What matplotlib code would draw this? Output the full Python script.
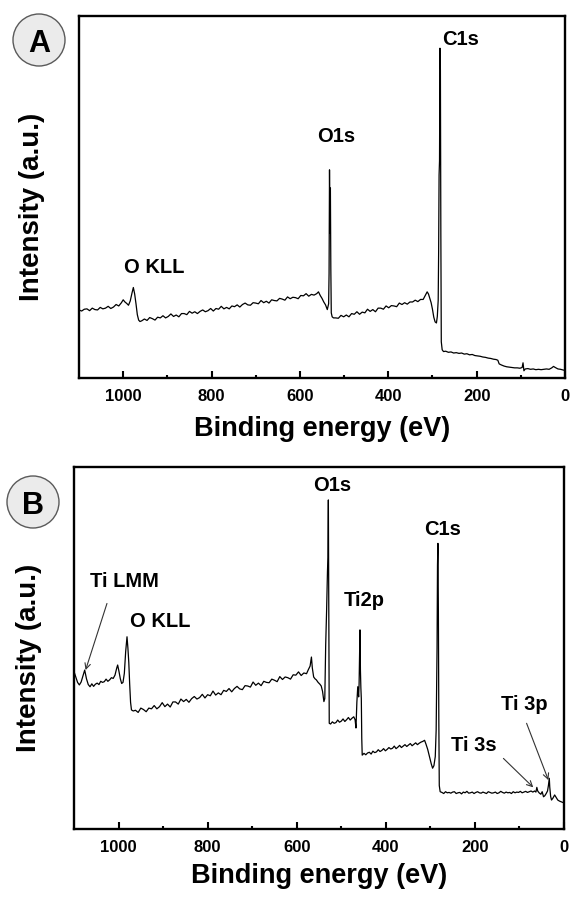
import matplotlib
matplotlib.use('Agg')
import matplotlib.pyplot as plt
from matplotlib.patches import Ellipse

plt.rcParams['font.family'] = ['Liberation Sans', 'DejaVu Sans']
plt.rcParams['font.weight'] = 'bold'

# ---- panel A : survey spectrum, (binding energy eV, intensity a.u.) ----
spectrumA = [
    (1100, 18.8), (1094, 18.5), (1088, 19.0), (1082, 19.1), (1076, 18.6), (1070, 19.3), (1064, 18.9),
    (1058, 18.8), (1052, 19.5), (1046, 19.1), (1040, 19.3), (1034, 19.8), (1028, 19.2), (1022, 19.6),
    (1016, 20.3), (1010, 19.9), (1004, 20.8), (1000, 21.6), (996, 21.0), (992, 20.6), (988, 20.1),
    (984, 21.3), (980, 23.5), (977, 25.0), (974, 23.2), (971, 20.5), (968, 17.5), (965, 16.0),
    (962, 15.6), (958, 15.8),
    (952, 16.3), (946, 15.9), (940, 16.7), (934, 16.4), (928, 16.0), (922, 16.8), (916, 16.6),
    (910, 17.2), (904, 16.6), (898, 17.0), (892, 17.7), (886, 17.0), (880, 17.4), (874, 16.9),
    (868, 17.8), (862, 17.8), (856, 17.5), (850, 18.4), (844, 17.9), (838, 18.3), (832, 17.8),
    (826, 18.4), (820, 18.8), (814, 18.3), (808, 18.6), (802, 19.2), (796, 18.5), (790, 19.2),
    (784, 19.0), (778, 19.8), (772, 19.1), (766, 19.5), (760, 19.1), (754, 19.9), (748, 19.7),
    (742, 20.2), (736, 19.6), (730, 20.3), (724, 20.7), (718, 20.2), (712, 20.1), (706, 20.8),
    (700, 20.7), (694, 20.5), (688, 21.4), (682, 20.8), (676, 21.2), (670, 20.7), (664, 21.6),
    (658, 21.4), (652, 21.3), (646, 22.0), (640, 21.8), (634, 21.5), (628, 22.4), (622, 21.9),
    (616, 22.3), (610, 22.2), (604, 21.9), (598, 22.8), (592, 22.7), (586, 23.3), (580, 22.6),
    (574, 23.1), (568, 22.9),
    (562, 23.3), (558, 23.8), (554, 22.8), (550, 22.0), (546, 21.0), (542, 20.2), (538, 18.9),
    (535, 20.5), (534, 28.9), (533, 57.5), (532, 40.0), (531, 52.5), (530, 30.0), (529, 18.0),
    (527, 16.9), (524, 16.6), (519, 16.6),
    (513, 16.5), (507, 17.3), (501, 16.9), (495, 17.4), (489, 16.9), (483, 17.8), (477, 17.6),
    (471, 18.3), (465, 17.6), (459, 18.2), (453, 18.0), (447, 19.0), (441, 18.4), (435, 18.9),
    (429, 18.3), (423, 19.3), (417, 19.3), (411, 19.0), (405, 19.9), (399, 19.4), (393, 20.0),
    (387, 19.9), (381, 19.7), (375, 20.7), (369, 20.3), (363, 20.8), (357, 20.4), (351, 21.0),
    (345, 21.0), (339, 21.5), (333, 21.1), (327, 21.7), (321, 21.7),
    (316, 22.9), (312, 23.8), (309, 23.2), (306, 22.0), (303, 20.8), (300, 19.0), (297, 16.8),
    (294, 15.5), (291, 15.2), (289, 17.0), (287, 21.5), (286, 35.0), (285, 56.1), (284, 60.0),
    (283, 91.1), (282, 85.0), (281, 40.0), (280, 10.0), (278, 7.8), (275, 7.3),
    (270, 7.4), (264, 7.1), (258, 7.2), (252, 6.9), (246, 7.0), (240, 6.8), (234, 6.9), (228, 6.6),
    (222, 6.7), (216, 6.4), (210, 6.5), (204, 6.2), (198, 6.1), (192, 6.0), (186, 5.8), (180, 5.7),
    (174, 5.5), (168, 5.4), (162, 5.2), (156, 5.1), (152, 4.9), (149, 3.9), (144, 3.6), (138, 3.3),
    (132, 3.1), (126, 3.0), (120, 2.9), (114, 2.8), (108, 2.8), (102, 2.7), (97, 2.9), (95, 4.2),
    (93, 2.0), (90, 2.5), (84, 2.6), (78, 2.4), (72, 2.5), (66, 2.3), (60, 2.4), (54, 2.3),
    (48, 2.4), (42, 2.5), (36, 2.4), (30, 2.8), (26, 3.2), (22, 2.9), (16, 2.5), (10, 2.4),
    (4, 2.2), (0, 2.1),
]

# ---- panel B : survey spectrum with Ti ----
spectrumB = [
    (1100, 43.5), (1096, 42.0), (1092, 40.5), (1088, 39.8), (1084, 40.6), (1080, 42.2), (1076, 43.9),
    (1072, 41.5), (1068, 39.9), (1064, 39.3), (1060, 40.1), (1056, 39.4), (1052, 40.0), (1048, 40.3),
    (1044, 39.9), (1040, 40.8), (1036, 40.5), (1032, 40.7), (1028, 41.4), (1024, 40.8), (1020, 41.2),
    (1016, 41.8), (1012, 41.6), (1008, 42.5), (1004, 44.5), (1002, 45.3), (999, 43.5), (996, 41.5),
    (993, 40.2), (990, 40.5), (987, 43.0), (984, 49.0), (981, 53.1), (979, 50.0), (977, 46.0),
    (975, 40.0), (973, 35.0), (971, 32.9), (967, 32.6),
    (962, 32.8), (956, 32.2), (950, 33.4), (944, 33.0), (938, 32.4), (932, 33.4), (926, 33.2),
    (920, 34.1), (914, 33.2), (908, 33.8), (902, 34.9), (896, 33.8), (890, 34.5), (884, 33.7),
    (878, 35.1), (872, 35.1), (866, 34.5), (860, 35.9), (854, 35.2), (848, 35.8), (842, 35.0),
    (836, 36.0), (830, 36.6), (824, 35.9), (818, 36.3), (812, 37.2), (806, 36.2), (800, 37.1),
    (794, 36.8), (788, 38.1), (782, 37.0), (776, 37.6), (770, 37.1), (764, 38.3), (758, 38.0),
    (752, 38.8), (746, 37.9), (740, 38.8), (734, 39.4), (728, 38.7), (722, 38.5), (716, 39.6),
    (710, 39.5), (704, 39.2), (698, 40.6), (692, 39.7), (686, 40.3), (680, 39.6), (674, 40.8),
    (668, 40.5), (662, 40.4), (656, 41.4), (650, 41.1), (644, 40.7), (638, 42.1), (632, 41.3),
    (626, 42.0), (620, 41.8), (614, 41.4), (608, 42.6), (602, 42.5), (596, 43.4), (590, 42.4),
    (584, 43.1), (578, 42.9),
    (574, 44.0), (570, 45.0), (567, 47.5), (565, 44.5), (562, 42.0), (559, 41.5), (556, 41.2),
    (552, 40.5), (548, 40.0), (545, 39.5), (542, 38.0), (539, 35.2), (537, 36.0), (535, 50.8),
    (533, 60.0), (531, 71.1), (530, 75.0), (529, 90.9), (528, 60.0), (527, 29.2),
    (524, 29.0), (520, 29.6), (516, 29.2), (512, 29.4), (508, 30.1), (504, 29.5), (500, 29.8),
    (496, 30.4), (492, 29.7), (488, 30.2), (484, 30.8), (480, 30.1), (476, 30.6), (472, 31.0),
    (469, 30.2), (467, 27.9), (465, 35.0), (463, 39.3), (461, 36.5), (460, 40.0), (459, 48.0),
    (458, 55.0), (457, 43.9), (456, 39.0), (455, 36.0), (454, 25.0), (453, 20.4),
    (449, 20.9), (445, 20.5), (441, 21.0), (437, 21.2), (433, 20.7), (429, 21.5), (425, 21.1),
    (421, 21.3), (417, 21.9), (413, 21.4), (409, 21.7), (405, 22.2), (401, 21.6), (397, 22.0),
    (393, 22.5), (389, 22.1), (385, 22.3), (381, 22.9), (377, 22.2), (373, 22.6), (369, 23.1),
    (365, 22.5), (361, 22.9), (357, 23.3), (353, 22.8), (349, 23.2), (345, 23.6), (341, 23.0),
    (337, 23.4), (333, 23.8), (329, 23.3), (325, 23.7), (321, 24.0),
    (317, 24.2), (313, 24.5), (310, 23.5), (306, 22.0), (302, 20.0), (298, 18.0), (295, 16.8),
    (292, 17.5), (289, 20.0), (287, 27.3), (285, 50.0), (284, 72.9), (283, 78.9), (282, 60.0),
    (281, 30.0), (280, 12.0), (278, 10.3),
    (274, 10.1), (270, 9.8), (266, 10.3), (262, 10.0), (258, 10.1), (254, 9.9), (250, 10.2),
    (246, 10.3), (242, 9.8), (238, 10.0), (234, 10.1), (230, 9.7), (226, 10.2), (222, 10.0),
    (218, 10.4), (214, 9.9), (210, 10.0), (206, 10.2), (202, 9.8), (198, 10.1), (194, 10.3),
    (190, 10.0), (186, 9.9), (182, 10.2), (178, 10.0), (174, 9.8), (170, 10.3), (166, 10.1),
    (162, 9.9), (158, 10.0), (154, 10.2), (150, 9.8), (146, 10.0), (142, 10.4), (138, 10.1),
    (134, 9.9), (130, 10.2), (126, 10.0), (122, 10.1), (118, 9.8), (114, 10.3), (110, 10.0),
    (106, 10.2), (102, 10.1), (98, 10.4), (94, 10.0), (90, 10.2), (86, 10.4), (82, 10.1),
    (78, 10.3), (74, 10.5), (70, 10.2), (66, 10.5),
    (63, 10.2), (61, 11.5), (59, 10.5), (56, 10.0), (52, 9.6), (49, 10.3), (46, 8.9), (43, 9.2),
    (40, 9.8), (37, 10.5), (35, 12.0), (33, 14.0), (32, 11.6), (30, 9.0), (28, 8.0), (25, 8.5),
    (21, 9.4), (18, 8.8), (14, 8.0), (10, 7.7), (6, 7.5), (2, 7.3), (0, 7.3),
]

energyA = [p[0] for p in spectrumA]
countsA = [p[1] for p in spectrumA]
energyB = [p[0] for p in spectrumB]
countsB = [p[1] for p in spectrumB]

# peak labels: (text, energy, intensity)
labelsA = [('O KLL', 929, 30.4), ('O1s', 518, 66.7), ('C1s', 237, 93.6)]
labelsB = [('Ti LMM', 987, 68.3), ('O KLL', 906, 57.3), ('O1s', 520, 95.0), ('C1s', 273, 82.8),
           ('Ti2p', 449, 63.1), ('Ti 3s', 202, 23.2), ('Ti 3p', 88, 34.3)]
# arrows in panel B: (tail energy, tail intensity, head energy, head intensity)
arrowsB = [(1026, 62.3, 1074, 43.9), (136, 19.5, 69, 11.5), (84, 29.2, 35, 13.5)]


def style_axes(ax):
    ax.set_xlim(1100, 0)
    ax.set_ylim(0, 100)
    ax.set_yticks([])
    ax.set_xticks([1000, 800, 600, 400, 200, 0])
    ax.set_xticks([900, 700, 500, 300, 100], minor=True)
    ax.tick_params(axis='x', which='major', direction='in', length=5, width=1.5,
                   labelsize=12, pad=8)
    ax.tick_params(axis='x', which='minor', direction='in', length=2.5, width=1.5)
    for lbl in ax.get_xticklabels():
        lbl.set_fontweight('bold')
    for sp in ax.spines.values():
        sp.set_linewidth(1.7)
    ax.set_xlabel('Binding energy (eV)', fontsize=19.5, fontweight='bold')
    ax.set_ylabel('Intensity (a.u.)', fontsize=20, fontweight='bold')


def panel_letter(fig, letter, cx, cy):
    W, H = 570, 900
    e = Ellipse((cx / W, 1 - cy / H), 52 / W, 52 / H, transform=fig.transFigure,
                facecolor='#ebebeb', edgecolor='#5a5a5a', linewidth=1.0)
    fig.patches.append(e)
    fig.text(cx / W, 1 - cy / H, letter, fontsize=22, fontweight='bold',
             ha='center', va='center_baseline')


fig = plt.figure(figsize=(5.7, 9), dpi=100)

axA = fig.add_axes([79 / 570, 1 - 378 / 900, 486 / 570, 362 / 900])
axA.plot(energyA, countsA, color='black', lw=0.9)
style_axes(axA)
axA.xaxis.set_label_coords(0.5, -0.105)
axA.yaxis.set_label_coords(-0.07, 0.474)
for txt, ex, ey in labelsA:
    axA.text(ex, ey, txt, fontsize=14.5, fontweight='bold', ha='center', va='center')

axB = fig.add_axes([74 / 570, 1 - 829 / 900, 490 / 570, 362 / 900])
axB.plot(energyB, countsB, color='black', lw=0.9)
style_axes(axB)
axB.xaxis.set_label_coords(0.5, -0.095)
axB.yaxis.set_label_coords(-0.066, 0.472)
for txt, ex, ey in labelsB:
    axB.text(ex, ey, txt, fontsize=14.5, fontweight='bold', ha='center', va='center')
for x0, y0, x1, y1 in arrowsB:
    axB.annotate('', xy=(x1, y1), xytext=(x0, y0),
                 arrowprops=dict(arrowstyle='->', lw=0.8, color='#333333',
                                 mutation_scale=10, shrinkA=0, shrinkB=0))

panel_letter(fig, 'A', 39, 40)
panel_letter(fig, 'B', 33, 502)

fig.savefig('out.png', dpi=100)
